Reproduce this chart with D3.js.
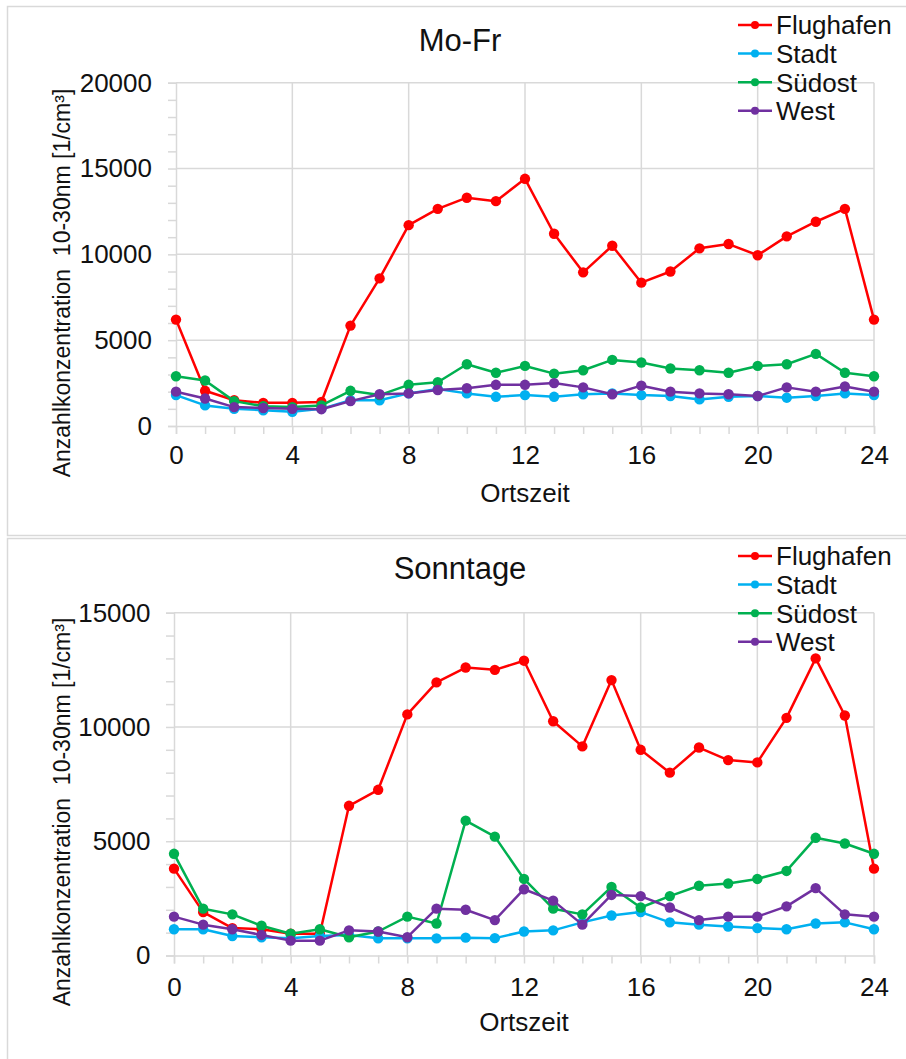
<!DOCTYPE html>
<html>
<head>
<meta charset="utf-8">
<script src="https://cdn.jsdelivr.net/npm/d3@7"></script>
<style>
  html, body { margin: 0; padding: 0; background: #fff; }
  svg { display: block; font-family: "Liberation Sans", Arial, sans-serif; }
</style>
</head>
<body>
<svg id="chart" width="906" height="1059"></svg>
<script>
// Hourly particle number concentration (10-30 nm), by site
const hours = [0,1,2,3,4,5,6,7,8,9,10,11,12,13,14,15,16,17,18,19,20,21,22,23,24];
const xTickLabels = [0,4,8,12,16,20,24];
const seriesNames = ["Flughafen","Stadt","Südost","West"];
const seriesColors = ["#ff0000","#00b0f0","#00b050","#7030a0"];

// Weekdays (Mo-Fr)
const moFrFlughafen = [6200,2050,1500,1350,1350,1400,5850,8600,11700,12650,13300,13100,14400,11200,8950,10500,8350,9000,10350,10600,9950,11050,11900,12650,6200];
const moFrStadt     = [1800,1200,1000,920,830,1000,1500,1500,1900,2150,1900,1700,1800,1700,1850,1900,1800,1750,1550,1700,1750,1650,1750,1900,1800];
const moFrSuedost   = [2900,2650,1450,1150,1100,1200,2050,1800,2400,2550,3600,3100,3500,3050,3250,3850,3700,3350,3250,3100,3500,3600,4200,3100,2900];
const moFrWest      = [2000,1600,1100,1050,1000,980,1450,1850,1900,2100,2200,2400,2400,2500,2250,1850,2350,2000,1900,1850,1750,2250,2000,2300,2000];
const moFrYTicks = [0,5000,10000,15000,20000];

// Sundays
const soFlughafen = [3800,1900,1200,1150,950,950,6550,7250,10550,11950,12600,12500,12900,10250,9150,12050,9000,8000,9100,8550,8450,10400,13000,10500,3800];
const soStadt     = [1150,1150,850,800,750,850,900,750,750,750,780,760,1050,1100,1450,1750,1900,1450,1350,1270,1200,1150,1400,1450,1150];
const soSuedost   = [4450,2050,1800,1300,950,1150,800,1050,1700,1400,5900,5200,3350,2050,1800,3000,2100,2600,3050,3150,3350,3700,5150,4900,4450];
const soWest      = [1700,1350,1150,900,650,650,1100,1050,800,2050,2000,1550,2900,2400,1350,2650,2600,2100,1550,1700,1700,2150,2950,1800,1700];
const soYTicks = [0,5000,10000,15000];

const yTitle = "Anzahlkonzentration  10-30nm [1/cm³]";
const xTitle = "Ortszeit";

const svg = d3.select("#chart");
const GRID = "#d9d9d9";
const TEXT = "#111";

function drawPanel(p) {
  const g = svg.append("g");

  // panel frame
  g.append("rect")
    .attr("x", 7.5).attr("y", p.frameTop)
    .attr("width", 920).attr("height", p.frameHeight)
    .attr("fill", "none").attr("stroke", GRID).attr("stroke-width", 1.5);

  const yMax = p.yTicks[p.yTicks.length - 1];
  const x = d3.scaleLinear().domain([0, 24]).range([p.left, p.right]);
  const y = d3.scaleLinear().domain([0, yMax]).range([p.bottom, p.top]);

  // gridlines
  g.append("g").selectAll("line.h").data(p.yTicks.slice(1)).join("line")
    .attr("x1", p.left).attr("x2", p.right)
    .attr("y1", d => y(d)).attr("y2", d => y(d))
    .attr("stroke", GRID).attr("stroke-width", 1.5);
  g.append("g").selectAll("line.v").data(xTickLabels.slice(1)).join("line")
    .attr("x1", d => x(d)).attr("x2", d => x(d))
    .attr("y1", p.top).attr("y2", p.bottom)
    .attr("stroke", GRID).attr("stroke-width", 1.5);

  // y axis with minor ticks every 1000
  const yAxis = d3.axisLeft(y)
    .tickValues(d3.range(0, yMax + 1, 1000))
    .tickSize(8).tickPadding(p.yPad)
    .tickFormat(d => p.yTicks.includes(d) ? String(d) : "");
  const ya = g.append("g").attr("transform", `translate(${p.left},0)`).call(yAxis);
  ya.select(".domain").attr("stroke", GRID).attr("stroke-width", 1.5);
  ya.selectAll(".tick line").attr("stroke", GRID).attr("stroke-width", 1.5);
  ya.selectAll(".tick text").attr("fill", TEXT).style("font-size", "26px")
    .style("font-family", "Liberation Sans, Arial, sans-serif");

  // x axis with a tick every hour
  const xAxis = d3.axisBottom(x)
    .tickValues(hours)
    .tickSize(8).tickPadding(p.xPad)
    .tickFormat(d => xTickLabels.includes(d) ? String(d) : "");
  const xa = g.append("g").attr("transform", `translate(0,${p.bottom})`).call(xAxis);
  xa.select(".domain").attr("stroke", GRID).attr("stroke-width", 1.5);
  xa.selectAll(".tick line").attr("stroke", GRID).attr("stroke-width", 1.5);
  xa.selectAll(".tick text").attr("fill", TEXT).style("font-size", "26px")
    .style("font-family", "Liberation Sans, Arial, sans-serif");

  // titles
  g.append("text").attr("x", 460).attr("y", p.titleBaseline)
    .attr("text-anchor", "middle").attr("fill", TEXT)
    .style("font-size", "31px").text(p.title);
  g.append("text").attr("x", (p.left + p.right) / 2).attr("y", p.xTitleBaseline)
    .attr("text-anchor", "middle").attr("fill", TEXT)
    .style("font-size", "26px").text(xTitle);
  g.append("text")
    .attr("transform", `translate(70,${p.yTitleCenter}) rotate(-90)`)
    .attr("text-anchor", "middle").attr("fill", TEXT)
    .style("font-size", "23px").style("white-space", "pre").text(yTitle);

  // series lines and markers
  const line = d3.line().x((d, i) => x(hours[i])).y(d => y(d));
  p.series.forEach((vals, si) => {
    const sg = g.append("g");
    sg.append("path").datum(vals)
      .attr("d", line).attr("fill", "none")
      .attr("stroke", seriesColors[si]).attr("stroke-width", 2.5)
      .attr("stroke-linejoin", "round");
    sg.selectAll("circle").data(vals).join("circle")
      .attr("cx", (d, i) => x(hours[i])).attr("cy", d => y(d))
      .attr("r", 5.2).attr("fill", seriesColors[si]);
  });

  // legend
  const lg = g.append("g").attr("transform", `translate(0,${p.legendTop})`);
  seriesNames.forEach((name, i) => {
    const ly = i * 28.6;
    lg.append("line").attr("x1", 738).attr("x2", 772).attr("y1", ly).attr("y2", ly)
      .attr("stroke", seriesColors[i]).attr("stroke-width", 2.5);
    lg.append("circle").attr("cx", 755).attr("cy", ly).attr("r", 4)
      .attr("fill", seriesColors[i]);
    lg.append("text").attr("x", 776).attr("y", ly + 9.3)
      .attr("fill", TEXT).style("font-size", "26px").text(name);
  });
}

drawPanel({
  title: "Mo-Fr", titleBaseline: 51,
  frameTop: 6.5, frameHeight: 529,
  left: 176, right: 874, top: 82.7, bottom: 426,
  yTicks: moFrYTicks, yPad: 16, xPad: 12,
  xTitleBaseline: 502, yTitleCenter: 283,
  legendTop: 25,
  series: [moFrFlughafen, moFrStadt, moFrSuedost, moFrWest]
});

drawPanel({
  title: "Sonntage", titleBaseline: 579,
  frameTop: 538.5, frameHeight: 600,
  left: 174, right: 874, top: 612.7, bottom: 955.5,
  yTicks: soYTicks, yPad: 15.5, xPad: 14.5,
  xTitleBaseline: 1031, yTitleCenter: 812,
  legendTop: 556,
  series: [soFlughafen, soStadt, soSuedost, soWest]
});
</script>
</body>
</html>
